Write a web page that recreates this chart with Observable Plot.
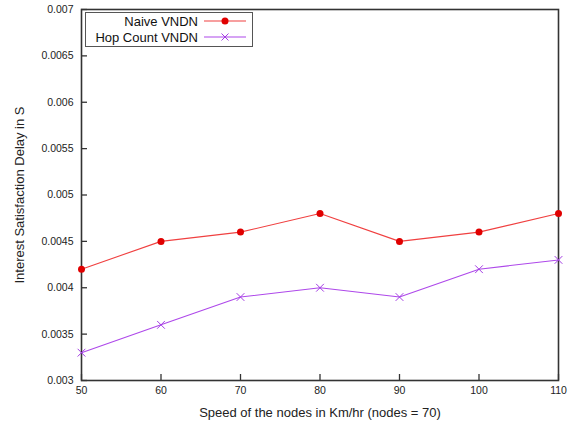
<!DOCTYPE html>
<html>
<head>
<meta charset="utf-8">
<script src="https://cdn.jsdelivr.net/npm/d3@7"></script>
<script src="https://cdn.jsdelivr.net/npm/@observablehq/plot@0.6"></script>
<style>
  html, body { margin: 0; padding: 0; background: #fff; }
  svg { font-family: "Liberation Sans", Arial, sans-serif; }
</style>
</head>
<body>
<div id="chart"></div>
<script>
const speeds = [50, 60, 70, 80, 90, 100, 110];
const naiveVNDN = [0.0042, 0.0045, 0.0046, 0.0048, 0.0045, 0.0046, 0.0048];
const hopCountVNDN = [0.0033, 0.0036, 0.0039, 0.0040, 0.0039, 0.0042, 0.0043];
const yTicks = [0.003, 0.0035, 0.004, 0.0045, 0.005, 0.0055, 0.006, 0.0065, 0.007];
const xTicks = [50, 60, 70, 80, 90, 100, 110];
const seriesNames = ["Naive VNDN", "Hop Count VNDN"];
const colors = {line0: "#f04040", dot0: "#e00000", line1: "#ae48ea", dot1: "#a43ee4"};

const naive = speeds.map((s, i) => ({speed: s, value: naiveVNDN[i]}));
const hop = speeds.map((s, i) => ({speed: s, value: hopCountVNDN[i]}));

const plot = Plot.plot({
  width: 577,
  height: 423,
  marginLeft: 81,
  marginRight: 19,
  marginTop: 9,
  marginBottom: 43,
  style: {fontFamily: "Liberation Sans, Arial, sans-serif", fontSize: "10.5px", color: "#222", background: "#fff"},
  x: {domain: [50, 110]},
  y: {domain: [0.003, 0.007]},
  marks: [
    Plot.axisX({ticks: xTicks, tickSize: -6, tickPadding: 12, tickFormat: d => String(d), stroke: "#333", strokeWidth: 1.3,
      label: "Speed of the nodes in Km/hr (nodes = 70)", labelAnchor: "center", labelArrow: "none", labelOffset: 36, fontSize: 10.5}),
    Plot.axisY({ticks: yTicks, tickSize: -6, tickPadding: 14, tickFormat: d => String(+d.toFixed(4)), stroke: "#333", strokeWidth: 1.3,
      label: "Interest Satisfaction Delay in S", labelAnchor: "center", labelArrow: "none", labelOffset: 67, fontSize: 10.5}),
    Plot.frame({stroke: "#333", strokeWidth: 1.6}),
    Plot.line(naive, {x: "speed", y: "value", stroke: colors.line0, strokeWidth: 1.1}),
    Plot.dot(naive, {x: "speed", y: "value", fill: colors.dot0, r: 3.5, symbol: "circle"}),
    Plot.line(hop, {x: "speed", y: "value", stroke: colors.line1, strokeWidth: 1.1}),
    Plot.dot(hop, {x: "speed", y: "value", stroke: colors.dot1, r: 3.6, symbol: "times", strokeWidth: 1})
  ]
});

document.getElementById("chart").appendChild(plot);

const svg = d3.select(plot);
svg.selectAll("[aria-label='x-axis label'] text, [aria-label='y-axis label'] text").style("font-size", "13px");

// legend
const lg = svg.append("g").attr("font-family", "Liberation Sans, Arial, sans-serif").attr("font-size", 13);
lg.append("rect").attr("x", 85.5).attr("y", 12.5).attr("width", 167).attr("height", 34)
  .attr("fill", "#fff").attr("stroke", "#555").attr("stroke-width", 1);
const rows = [
  {name: seriesNames[0], line: colors.line0, dot: colors.dot0, sym: "circle"},
  {name: seriesNames[1], line: colors.line1, dot: colors.dot1, sym: "times"}
];
rows.forEach((r, i) => {
  const cy = 21 + i * 16;
  lg.append("text").attr("x", 198).attr("y", cy).attr("dy", "0.35em").attr("text-anchor", "end").attr("fill", "#111").text(r.name);
  lg.append("line").attr("x1", 204).attr("x2", 246).attr("y1", cy).attr("y2", cy).attr("stroke", r.line).attr("stroke-width", 1.1);
  if (r.sym === "circle") {
    lg.append("circle").attr("cx", 225).attr("cy", cy).attr("r", 3.5).attr("fill", r.dot);
  } else {
    lg.append("path").attr("d", `M${221.5},${cy-3.5}L${228.5},${cy+3.5}M${221.5},${cy+3.5}L${228.5},${cy-3.5}`).attr("stroke", r.dot).attr("stroke-width", 1);
  }
});
</script>
</body>
</html>
